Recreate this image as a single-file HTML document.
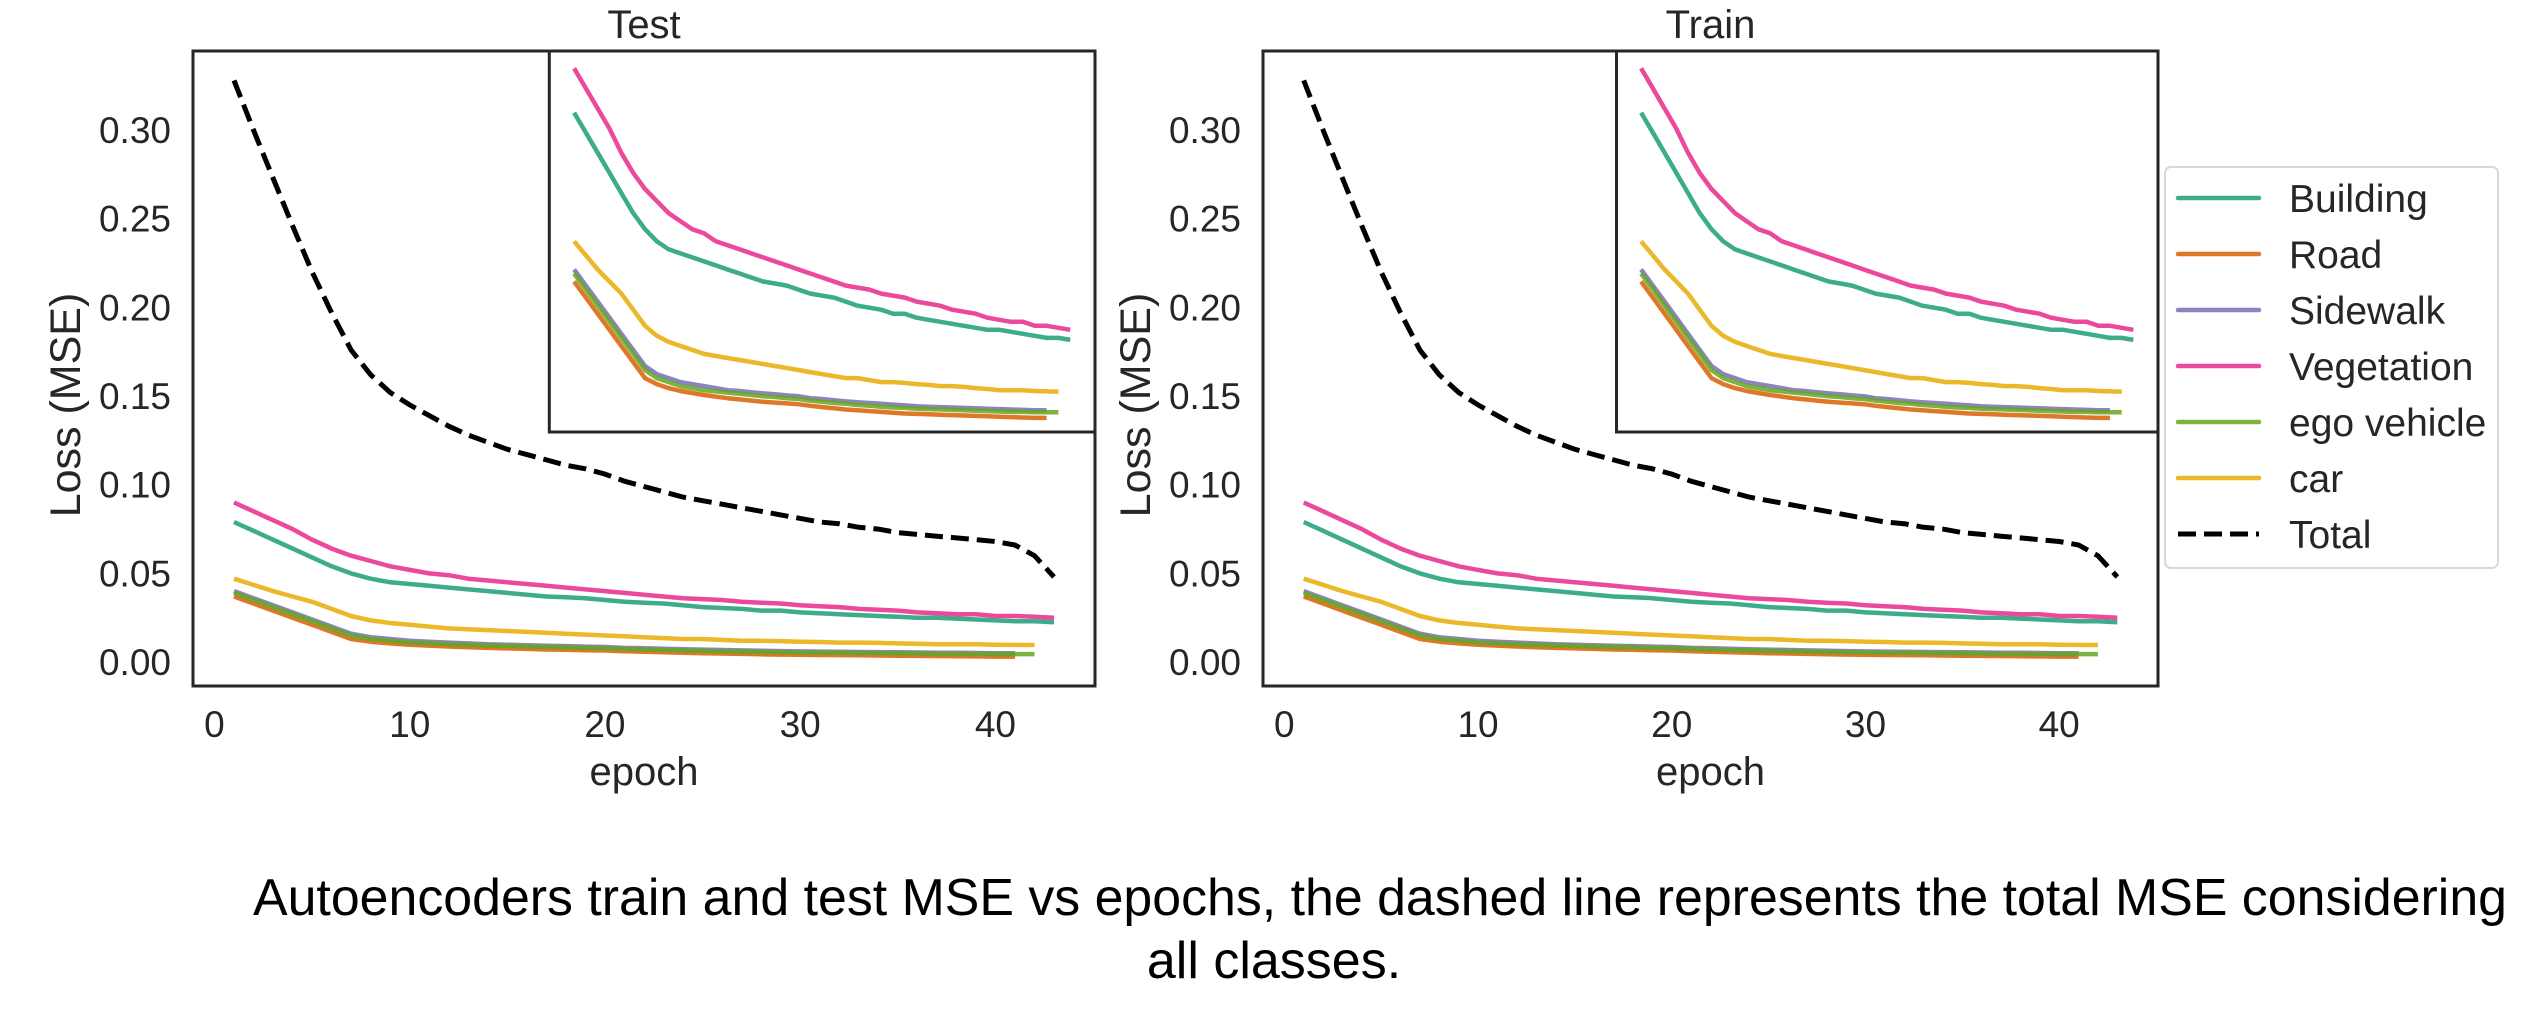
<!DOCTYPE html>
<html><head><meta charset="utf-8"><style>
body{margin:0;background:#fff}
svg{display:block;font-family:"Liberation Sans",sans-serif}
</style></head><body>
<svg id="fig" width="2548" height="1012" viewBox="0 0 2548 1012" xmlns="http://www.w3.org/2000/svg">
<rect width="2548" height="1012" fill="#fff"/>
<g id="panels"></g>
<g id="legend">
<rect x="2165" y="167" width="333" height="401" rx="6" fill="#fff" stroke="#d8d8d8" stroke-width="2"/>
</g>
<text x="253" y="915" font-size="52" textLength="2254" lengthAdjust="spacingAndGlyphs">Autoencoders train and test MSE vs epochs, the dashed line represents the total MSE considering</text>
<text x="1274" y="978" font-size="52" text-anchor="middle">all classes.</text>
</svg>
<script>
const epochs = Array.from({length:43},(_,i)=>i+1);
const seriesNames = ["Building","Road","Sidewalk","Vegetation","ego vehicle","car"];
const building = [.079,.074,.069,.064,.059,.054,.050,.047,.045,.044,.043,.042,.041,.040,.039,.038,.037,.0365,.036,.035,.034,.0335,.033,.032,.031,.0305,.030,.029,.029,.028,.0275,.027,.0265,.026,.0255,.025,.025,.0245,.024,.0235,.023,.023,.0225];
const road = [.037,.033,.029,.025,.021,.017,.013,.0115,.0105,.0098,.0093,.0088,.0084,.008,.0077,.0074,.0071,.0069,.0067,.0065,.0061,.0058,.0055,.0052,.005,.0048,.0046,.0044,.0042,.0041,.004,.0039,.0038,.0037,.0036,.0035,.0034,.0033,.0032,.0031,.0031];
const sidewalk = [.040,.036,.032,.028,.024,.020,.016,.014,.013,.012,.0115,.011,.0105,.010,.0098,.0095,.0092,.009,.0087,.0085,.008,.0078,.0075,.0072,.007,.0068,.0066,.0064,.0062,.006,.0059,.0058,.0057,.0056,.0055,.0054,.0053,.0052,.0051,.005,.005];
const vegetation = [.090,.085,.080,.075,.069,.064,.060,.057,.054,.052,.050,.049,.047,.046,.045,.044,.043,.042,.041,.040,.039,.038,.037,.036,.0355,.035,.034,.0335,.033,.032,.0315,.031,.030,.0295,.029,.028,.0275,.027,.027,.026,.026,.0255,.025];
const egoVehicle = [.039,.035,.031,.027,.023,.019,.015,.013,.012,.011,.0105,.010,.0097,.0094,.0091,.0088,.0085,.0083,.008,.0078,.0074,.0071,.0068,.0066,.0063,.0061,.0059,.0057,.0056,.0054,.0053,.0052,.0051,.005,.0049,.0048,.0047,.0046,.0046,.0045,.0045,.0045];
const car = [.047,.0435,.040,.037,.034,.030,.026,.0235,.022,.021,.020,.019,.0185,.018,.0175,.017,.0165,.016,.0155,.015,.0145,.014,.0135,.013,.013,.0125,.012,.012,.0118,.0115,.0113,.011,.011,.0108,.0105,.0103,.010,.010,.010,.0098,.0097,.0096];
const total = [.328,.300,.273,.246,.220,.197,.176,.162,.152,.145,.139,.133,.128,.124,.120,.117,.114,.111,.109,.106,.102,.099,.096,.093,.091,.089,.087,.085,.083,.081,.079,.078,.076,.075,.073,.072,.071,.070,.069,.068,.066,.060,.048];
const xTicks = [0,10,20,30,40];
const yTicks = [0,0.05,0.10,0.15,0.20,0.25,0.30];
const yTickLabels = ["0.00","0.05","0.10","0.15","0.20","0.25","0.30"];
const panelTitles = ["Test","Train"];

const NS="http://www.w3.org/2000/svg";
const colors=["#1b9e77","#d95f02","#7570b3","#e7298a","#66a61e","#e6ab02"];
const seriesData=[building,road,sidewalk,vegetation,egoVehicle,car];
const xlim=[-1.1,45.1], ylim=[-0.0135,0.3446], insetY=[-0.0004,0.0943];
function mk(tag,attrs,parent){const e=document.createElementNS(NS,tag);for(const k in attrs)e.setAttribute(k,attrs[k]);parent.appendChild(e);return e;}
function pathFor(vals,sx,sy){return vals.map((v,i)=>(i?"L":"M")+sx(epochs[i]).toFixed(1)+","+sy(v).toFixed(1)).join("");}
const panels=document.getElementById("panels");
const layouts=[{l:193,r:1095},{l:1263,r:2158}];
layouts.forEach((L,p)=>{
  const top=51,bot=686;
  const g=mk("g",{},panels);
  
  
  const sx=v=>L.l+(v-xlim[0])/(xlim[1]-xlim[0])*(L.r-L.l);
  const sy=v=>bot-(v-ylim[0])/(ylim[1]-ylim[0])*(bot-top);
  seriesData.forEach((d,i)=>{
    const pth=mk("path",{d:pathFor(d,sx,sy),fill:"none",stroke:colors[i],"stroke-width":4.5,"stroke-opacity":0.85,"stroke-linejoin":"round"},g);
    
    
  });
  const tp=mk("path",{d:pathFor(total,sx,sy),fill:"none",stroke:"#000","stroke-width":5,"stroke-dasharray":"18,8"},g);
  
  
  mk("rect",{x:L.l,y:top,width:L.r-L.l,height:bot-top,fill:"none",stroke:"#262626","stroke-width":3},g);
  yTicks.forEach((t,i)=>{
    const tx=mk("text",{x:L.l-22,y:sy(t)+13,"font-size":37,"text-anchor":"end",fill:"#262626"},g);
    tx.textContent=yTickLabels[i];
    
    
  });
  xTicks.forEach(t=>{
    const tx=mk("text",{x:sx(t),y:737,"font-size":37,"text-anchor":"middle",fill:"#262626"},g);
    tx.textContent=String(t);
    
    
  });
  const xt=mk("text",{x:(L.l+L.r)/2,y:785,"font-size":40,"text-anchor":"middle",fill:"#262626"},g);
  xt.textContent="epoch";
  
  
  const cy=405, cx=L.l-128;
  const yt=mk("text",{x:cx,y:cy,"font-size":43,"text-anchor":"middle",fill:"#262626",transform:`rotate(-90 ${cx} ${cy}) translate(0 15)`},g);
  yt.textContent="Loss (MSE)";
  
  
  const ti=mk("text",{x:(L.l+L.r)/2,y:38,"font-size":40,"text-anchor":"middle",fill:"#262626"},g);
  ti.textContent=panelTitles[p];
  
  
  const il=L.l+(L.r-L.l)*0.395, ir=L.r, it=top, ib=432;
  const ig=mk("g",{},g);
  
  
  mk("rect",{x:il,y:it,width:ir-il,height:ib-it,fill:"#fff"},ig);
  const isx=v=>il+(v-xlim[0])/(xlim[1]-xlim[0])*(ir-il);
  const isy=v=>ib-(v-insetY[0])/(insetY[1]-insetY[0])*(ib-it);
  seriesData.forEach((d,i)=>{
    const pth=mk("path",{d:pathFor(d,isx,isy),fill:"none",stroke:colors[i],"stroke-width":4.5,"stroke-opacity":0.85,"stroke-linejoin":"round"},ig);
    
    
  });
  mk("rect",{x:il,y:it,width:ir-il,height:ib-it,fill:"none",stroke:"#262626","stroke-width":3},ig);
});
const lg=document.getElementById("legend");
const labels=seriesNames.concat(["Total"]);
labels.forEach((n,i)=>{
  const y=198+i*56;
  const e=mk("g",{},lg);
  
  
  if(i<6) mk("line",{x1:2178,x2:2259,y1:y,y2:y,stroke:colors[i],"stroke-width":4.5,"stroke-opacity":0.85,"stroke-linecap":"round"},e);
  else mk("line",{x1:2178,x2:2259,y1:y,y2:y,stroke:"#000","stroke-width":5,"stroke-dasharray":"18,8"},e);
  const t=mk("text",{x:2289,y:y+14,"font-size":39,fill:"#262626"},e);
  t.textContent=n;
});
</script>
</body></html>
